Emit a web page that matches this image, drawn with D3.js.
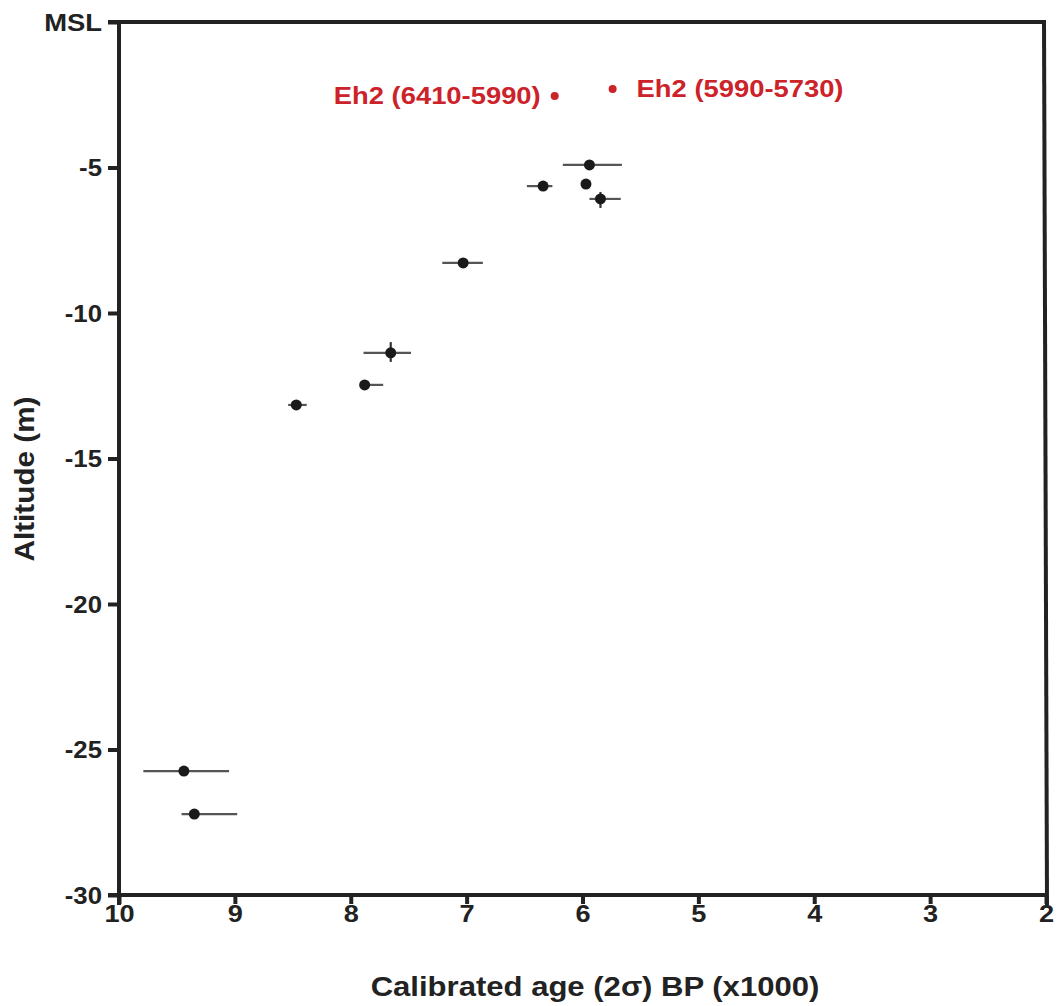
<!DOCTYPE html>
<html><head><meta charset="utf-8">
<script src="https://cdn.jsdelivr.net/npm/d3@7/dist/d3.min.js"></script>
<style>body{margin:0;background:#fff}svg{display:block}text{font-family:"Liberation Sans",Arial,sans-serif;font-weight:bold}</style>
</head><body><svg id="c" width="1057" height="1006"></svg>
<script>
// Black samples: age (ka BP), altitude (m), horizontal (age) and vertical error ranges
const ages      = [5.94, 6.34, 5.97, 5.845, 7.03, 7.655, 7.88, 8.47, 9.44, 9.35];
const altitudes = [-4.91, -5.64, -5.57, -6.08, -8.28, -11.37, -12.47, -13.16, -25.74, -27.22];
const ageOld    = [6.17, 6.48, null, 5.94, 7.21, 7.89, 7.88, 8.54, 9.79, 9.46];
const ageYoung  = [5.66, 6.26, null, 5.67, 6.86, 7.48, 7.72, 8.38, 9.05, 8.98];
const altTop    = [null, null, null, -5.84, null, -11.0, null, null, null, null];
const altBottom = [null, null, null, -6.39, null, -11.68, null, null, null, null];
// Red Eh2 samples
const redAges   = [6.24, 5.74];
const redAlts   = [-2.54, -2.30];
const redLabels = ["Eh2 (6410-5990)", "Eh2 (5990-5730)"];
// Ticks
const xTicks = [10, 9, 8, 7, 6, 5, 4, 3, 2];
const yTicks = [0, -5, -10, -15, -20, -25, -30];
const yTickLabels = ["MSL", "-5", "-10", "-15", "-20", "-25", "-30"];

const svg = d3.select("#c");
const x = d3.scaleLinear().domain([10, 2]).range([119, 1046]);
const y = d3.scaleLinear().domain([0, -30]).range([22, 895]);
const ink = "#222";

function stretch(sel, f) {
  sel.each(function (d) {
    const k = typeof f === "function" ? f(d) : f;
    const w = this.getComputedTextLength();
    d3.select(this).attr("textLength", w * k).attr("lengthAdjust", "spacingAndGlyphs");
  });
}

// error bars
const g = svg.append("g");
ages.forEach((a, i) => {
  if (ageOld[i] != null) {
    g.append("line").attr("x1", x(ageOld[i])).attr("x2", x(ageYoung[i]))
      .attr("y1", y(altitudes[i])).attr("y2", y(altitudes[i]))
      .attr("stroke", "#555").attr("stroke-width", 2.2);
  }
  if (altTop[i] != null) {
    g.append("line").attr("x1", x(a)).attr("x2", x(a))
      .attr("y1", y(altTop[i])).attr("y2", y(altBottom[i]))
      .attr("stroke", "#333").attr("stroke-width", 2.2);
  }
});
g.selectAll("circle.b").data(ages).join("circle").attr("class", "b")
  .attr("cx", d => x(d)).attr("cy", (d, i) => y(altitudes[i])).attr("r", 5.5).attr("fill", "#1a1a1a");

// red points
const red = "#cc2229";
svg.selectAll("circle.r").data(redAges).join("circle").attr("class", "r")
  .attr("cx", d => x(d)).attr("cy", (d, i) => y(redAlts[i])).attr("r", 4).attr("fill", red);
const rl = svg.selectAll("text.r").data(redLabels).join("text").attr("class", "r")
  .attr("x", (d, i) => i === 0 ? x(redAges[i]) - 14 : x(redAges[i]) + 24)
  .attr("y", (d, i) => y(redAlts[i]) + 8.5)
  .attr("text-anchor", (d, i) => i === 0 ? "end" : "start")
  .attr("font-size", 24).attr("fill", red).text(d => d);
stretch(rl, 1.14);

// frame
const sw = 4;
svg.append("line").attr("x1", 108).attr("x2", x(2) - 1).attr("y1", y(0)).attr("y2", y(0)).attr("stroke", ink).attr("stroke-width", sw);
svg.append("line").attr("x1", x(2) - 2).attr("x2", x(2) + 1).attr("y1", y(0) - 2).attr("y2", y(-30) + 10).attr("stroke", ink).attr("stroke-width", sw);
svg.append("line").attr("x1", x(10)).attr("x2", x(10)).attr("y1", y(0) - 2).attr("y2", y(-30) + 10).attr("stroke", ink).attr("stroke-width", sw);
svg.append("line").attr("x1", 108).attr("x2", x(2) + 1).attr("y1", y(-30)).attr("y2", y(-30)).attr("stroke", ink).attr("stroke-width", sw);

// x axis
const xAxis = d3.axisBottom(x).tickValues(xTicks).tickSize(9).tickSizeOuter(0).tickFormat(d3.format("d"));
const gx = svg.append("g").attr("transform", `translate(0,${y(-30)})`).call(xAxis);
gx.select(".domain").remove();
gx.selectAll(".tick line").attr("stroke", ink).attr("stroke-width", sw);
const xt = gx.selectAll(".tick text").attr("font-size", 23).attr("fill", ink).attr("dy", "0.85em").attr("y", 7)
  .style("font-family", '"Liberation Sans",Arial,sans-serif').style("font-weight", "bold");
stretch(xt, 1.18);

// y axis
const yAxis = d3.axisLeft(y).tickValues(yTicks).tickSize(11).tickSizeOuter(0).tickFormat((d, i) => yTickLabels[i]);
const gy = svg.append("g").attr("transform", `translate(${x(10)},0)`).call(yAxis);
gy.select(".domain").remove();
gy.selectAll(".tick line").attr("stroke", ink).attr("stroke-width", sw);
const yt = gy.selectAll(".tick text").attr("font-size", 23).attr("fill", ink).attr("x", -17).attr("dy", "0.35em")
  .style("font-family", '"Liberation Sans",Arial,sans-serif').style("font-weight", "bold");
stretch(yt, d => d === 0 ? 1.19 : 1.12);

// titles
const xtTitle = svg.append("text").attr("x", 595).attr("y", 996).attr("text-anchor", "middle").attr("font-size", 27).attr("fill", ink)
  .text("Calibrated age (2σ) BP (x1000)");
stretch(xtTitle, 1.15);
const ytTitle = svg.append("text").attr("transform", "translate(34,479) rotate(-90)").attr("text-anchor", "middle").attr("font-size", 27).attr("fill", ink)
  .text("Altitude (m)");
stretch(ytTitle, 1.1);
</script></body></html>
